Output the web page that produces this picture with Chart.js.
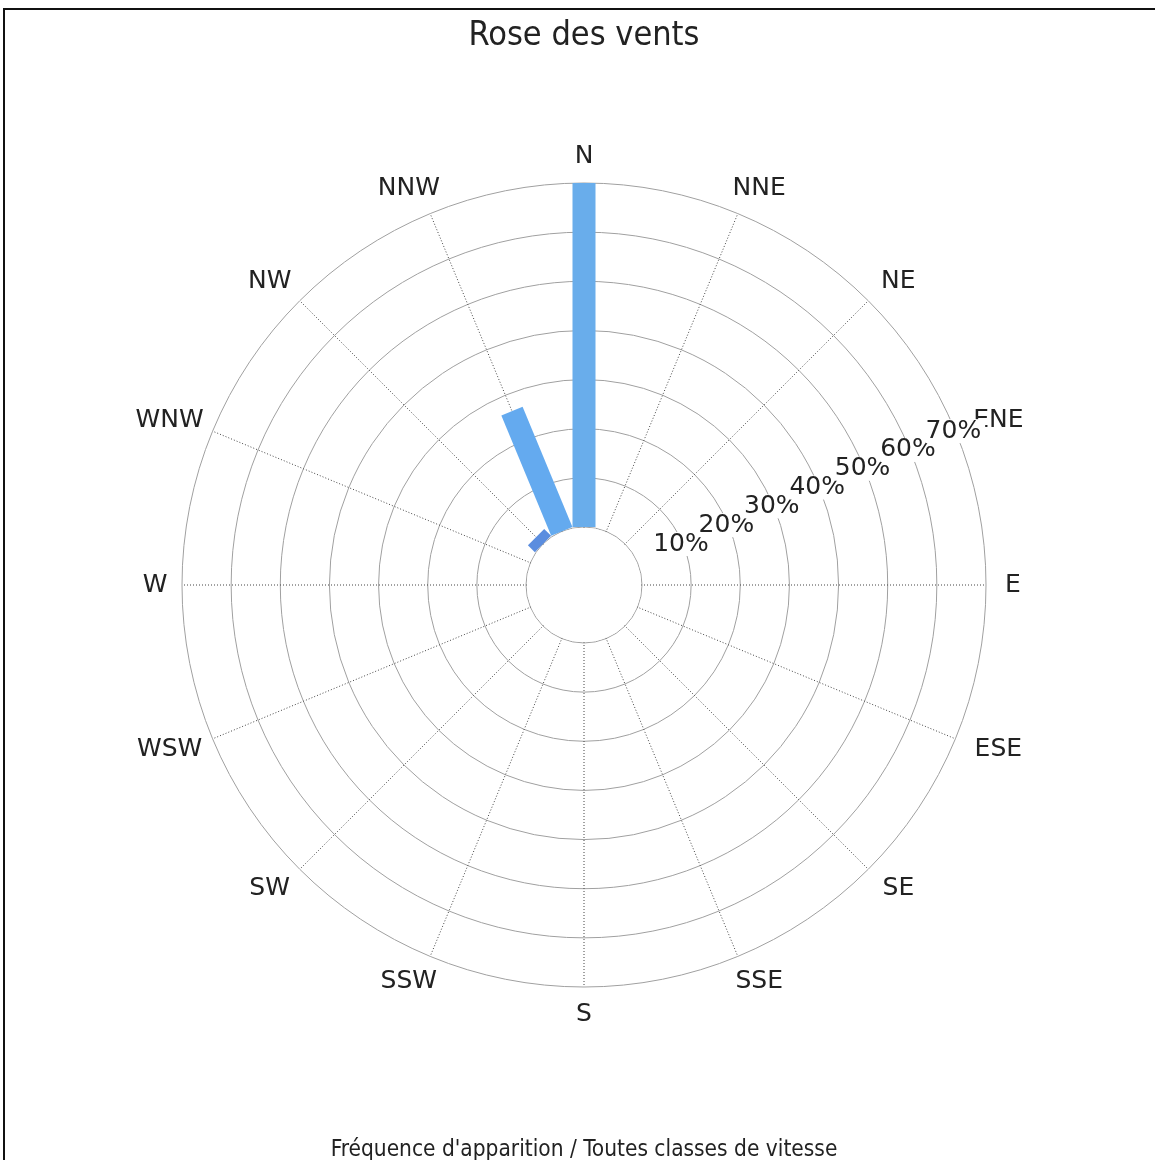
<!DOCTYPE html>
<html lang="fr">
<head>
<meta charset="utf-8">
<title>Rose des vents</title>
<script src="https://cdn.jsdelivr.net/npm/chart.js@4.4.0/dist/chart.umd.min.js"></script>
<style>
  html, body { margin: 0; padding: 0; background: #fff; }
  #wrap { position: relative; width: 1155px; height: 1160px; overflow: hidden; }
  #cadre { position: absolute; left: 3px; top: 8px; width: 1300px; height: 1300px;
           border-left: 2px solid #111; border-top: 2px solid #111; pointer-events: none; }
</style>
</head>
<body>
<div id="wrap">
  <canvas id="rose" width="1155" height="1160"></canvas>
  <div id="cadre"></div>
</div>
<script>
// directions (sens horaire depuis le nord)
const directions = ['N', 'NNE', 'NE', 'ENE', 'E', 'ESE', 'SE', 'SSE',
                    'S', 'SSW', 'SW', 'WSW', 'W', 'WNW', 'NW', 'NNW'];
// fréquence d'apparition en %
const frequences = [70, 0, 0, 0, 0, 0, 0, 0, 0, 0, 0, 0, 0, 0, 2, 26.5];
const couleursBarres = ['#69adeb', '#69adeb', '#69adeb', '#69adeb', '#69adeb', '#69adeb', '#69adeb', '#69adeb',
                        '#69adeb', '#69adeb', '#69adeb', '#69adeb', '#69adeb', '#69adeb', '#5b8ddf', '#64aaef'];
// graduations radiales
const graduations = [0, 10, 20, 30, 40, 50, 60, 70];
const etiquettesGrad = ['', '10%', '20%', '30%', '40%', '50%', '60%', '70%'];
const axeGraduations = 'ENE'; // les % sont écrits le long de cet axe

const POLICE = '"DejaVu Sans", Verdana, sans-serif';
const POLICE_ETROITE = '"DejaVu Sans Condensed", "DejaVu Sans", sans-serif';

// Trou central : la valeur 0 tombe à ~58px du centre (rayon total 402px)
const MIN_ECHELLE = -11.8;

const rosePlugin = {
  id: 'rosePlugin',
  beforeDatasetsDraw(chart) {
    // on vide le centre (les lignes d'angle partent du centre)
    const s = chart.scales.r;
    const ctx = chart.ctx;
    const r0 = s.getDistanceFromCenterForValue(0);
    ctx.save();
    ctx.fillStyle = '#fff';
    ctx.beginPath();
    ctx.arc(s.xCenter, s.yCenter, r0 - 0.8, 0, Math.PI * 2);
    ctx.fill();
    ctx.restore();
  },
  afterDatasetsDraw(chart) {
    const s = chart.scales.r;
    const ctx = chart.ctx;
    const valeurs = chart.data.datasets[0].data;
    ctx.save();

    // barres (largeur constante)
    ctx.lineCap = 'butt';
    ctx.lineWidth = 23;
    valeurs.forEach((v, i) => {
      if (!v) return;
      const a = s.getPointPositionForValue(i, 0);
      const b = s.getPointPositionForValue(i, v);
      ctx.strokeStyle = couleursBarres[i];
      ctx.beginPath();
      ctx.moveTo(a.x, a.y);
      ctx.lineTo(b.x, b.y);
      ctx.stroke();
    });

    // noms des directions
    ctx.font = '25px ' + POLICE;
    ctx.fillStyle = '#222';
    ctx.textAlign = 'center';
    ctx.textBaseline = 'middle';
    chart.data.labels.forEach((lab, i) => {
      const p = s.getPointPosition(i, s.drawingArea + 27);
      const sin = Math.sin(i * Math.PI / 8);
      let dx = 0;
      if (Math.abs(sin) > 0.01 && Math.abs(sin) < 0.99) {
        dx = Math.sign(sin) * (Math.abs(sin) > 0.9 ? 18 : 11);
      }
      ctx.fillText(lab, p.x + dx, p.y);
    });

    // pourcentages avec fond blanc
    const idx = directions.indexOf(axeGraduations);
    graduations.forEach((g, k) => {
      const txt = etiquettesGrad[k];
      if (!txt) return;
      const p = s.getPointPositionForValue(idx, g);
      const w = ctx.measureText(txt).width;
      ctx.fillStyle = '#fff';
      ctx.fillRect(p.x - w / 2 - 2, p.y - 12, w + 4, 24);
      ctx.fillStyle = '#222';
      ctx.fillText(txt, p.x - 2, p.y);
    });
    ctx.restore();
  }
};

const config = {
  type: 'radar',
  data: {
    labels: directions,
    datasets: [{
      label: 'Fréquence',
      data: frequences,
      borderWidth: 0,
      pointRadius: 0,
      backgroundColor: 'transparent',
      borderColor: 'transparent'
    }]
  },
  options: {
    responsive: false,
    animation: false,
    layout: { padding: { left: 182, right: 169, top: 0, bottom: 0 } },
    plugins: {
      legend: { display: false },
      tooltip: { enabled: false },
      title: {
        display: true,
        text: 'Rose des vents',
        color: '#222',
        font: { family: POLICE_ETROITE, size: 34, weight: 'normal' },
        padding: { top: 15.6, bottom: 10 }
      },
      subtitle: {
        display: true,
        position: 'bottom',
        text: "Fréquence d'apparition / Toutes classes de vitesse",
        color: '#222',
        font: { family: POLICE_ETROITE, size: 22.5, weight: 'normal' },
        padding: { top: 33.4, bottom: -4 }
      }
    },
    scales: {
      r: {
        min: MIN_ECHELLE,
        max: 70,
        afterBuildTicks(scale) {
          scale.ticks = graduations.map(v => ({ value: v }));
        },
        ticks: { display: false },
        grid: { circular: true, color: '#a0a0a0', lineWidth: 1 },
        angleLines: {
          color: ctx => directions[ctx.index] === axeGraduations ? 'transparent' : '#444',
          lineWidth: 1,
          borderDash: [1, 2]
        },
        pointLabels: { display: false }
      }
    }
  },
  plugins: [rosePlugin]
};

new Chart(document.getElementById('rose'), config);
</script>
</body>
</html>
